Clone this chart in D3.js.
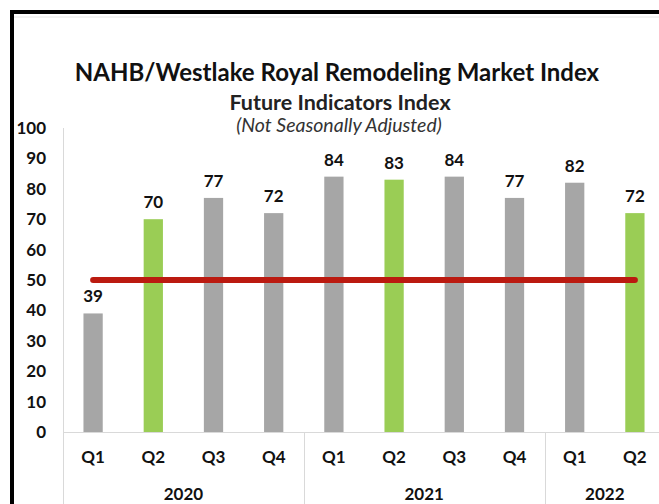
<!DOCTYPE html>
<html>
<head>
<meta charset="utf-8">
<script src="https://cdn.jsdelivr.net/npm/d3@7"></script>
<style>
  body { margin: 0; background: #fff; }
  text { font-family: Lato, "Open Sans", sans-serif; fill: #111; }
</style>
</head>
<body>
<div class="vis-barchart"></div>
<script>
// data
const quarters = ["Q1", "Q2", "Q3", "Q4", "Q1", "Q2", "Q3", "Q4", "Q1", "Q2"];
const years = ["2020", "2020", "2020", "2020", "2021", "2021", "2021", "2021", "2022", "2022"];
const values = [39, 70, 77, 72, 84, 83, 84, 77, 82, 72];
const threshold = 50;
const yTicks = [0, 10, 20, 30, 40, 50, 60, 70, 80, 90, 100];

const width = 659;
const height = 504;

const svg = d3.select('.vis-barchart').append('svg')
    .attr('width', width)
    .attr('height', height);

const idx = values.map((d, i) => i);

const x = d3.scaleBand()
    .domain(idx)
    .range([63, 665])
    .paddingInner(0.68)
    .paddingOuter(0.34);

const y = d3.scaleLinear()
    .domain([0, 100])
    .range([432, 128]);

// frame (black border on left and top)
svg.append('line')
    .attr('x1', 12).attr('x2', 12).attr('y1', 10).attr('y2', height)
    .attr('stroke', '#000').attr('stroke-width', 4);
svg.append('line')
    .attr('x1', 10).attr('x2', width).attr('y1', 12).attr('y2', 12)
    .attr('stroke', '#000').attr('stroke-width', 4);
svg.append('line')
    .attr('x1', 14).attr('x2', width).attr('y1', 17).attr('y2', 17)
    .attr('stroke', '#e6e6e6').attr('stroke-width', 1);

// titles
svg.append('text')
    .attr('x', 337).attr('y', 81)
    .attr('text-anchor', 'middle')
    .style('font-size', '24px').style('font-weight', 'bold')
    .text('NAHB/Westlake Royal Remodeling Market Index');
svg.append('text')
    .attr('x', 340).attr('y', 110)
    .attr('text-anchor', 'middle')
    .style('font-size', '21.5px').style('font-weight', 'bold')
    .style('fill', '#222')
    .text('Future Indicators Index');
svg.append('text')
    .attr('x', 339).attr('y', 132)
    .attr('text-anchor', 'middle')
    .style('font-size', '19.5px').style('font-style', 'italic')
    .style('fill', '#333')
    .text('(Not Seasonally Adjusted)');

// y axis labels
const yAxis = svg.append('g')
    .attr('transform', 'translate(46,0)')
    .call(d3.axisLeft(y).tickValues(yTicks).tickSize(0).tickPadding(0));
yAxis.select('.domain').remove();
yAxis.selectAll('text')
    .style('font-size', '17px').style('font-weight', 'bold')
    .style('font-family', 'Lato, sans-serif').attr('fill', '#111');

// left axis line and baseline
svg.append('line')
    .attr('x1', 63.5).attr('x2', 63.5).attr('y1', y(100)).attr('y2', height)
    .attr('stroke', '#d9d9d9');
svg.append('line')
    .attr('x1', 63).attr('x2', width).attr('y1', y(0) + 0.5).attr('y2', y(0) + 0.5)
    .attr('stroke', '#d9d9d9');

// bars
svg.selectAll('.bar')
    .data(values)
    .enter().append('rect')
    .attr('class', 'bar')
    .attr('x', (d, i) => x(i))
    .attr('y', d => y(d))
    .attr('width', x.bandwidth())
    .attr('height', d => y(0) - y(d))
    .attr('fill', (d, i) => quarters[i] === 'Q2' ? '#9acd55' : '#a6a6a6');

// value labels
svg.selectAll('.val')
    .data(values)
    .enter().append('text')
    .attr('class', 'val')
    .attr('x', (d, i) => x(i) + x.bandwidth() / 2)
    .attr('y', d => y(d) - 11)
    .attr('text-anchor', 'middle')
    .style('font-size', '17px').style('font-weight', 'bold')
    .text(d => d);

// threshold line
const line = d3.line()
    .x(d => x(d) + x.bandwidth() / 2)
    .y(() => y(threshold));
svg.append('path')
    .datum(idx)
    .attr('d', line)
    .attr('fill', 'none')
    .attr('stroke', '#bb1a10')
    .attr('stroke-width', 6)
    .attr('stroke-linecap', 'round');

// quarter labels
svg.selectAll('.q')
    .data(quarters)
    .enter().append('text')
    .attr('class', 'q')
    .attr('x', (d, i) => x(i) + x.bandwidth() / 2)
    .attr('y', 463)
    .attr('text-anchor', 'middle')
    .style('font-size', '17px').style('font-weight', 'bold')
    .text(d => d);

// year groups
const yearGroups = d3.groups(idx, i => years[i]);
const step = x.step();
yearGroups.forEach(([yr, ids], k) => {
    const x0 = x(ids[0]) - x.paddingOuter() * step;
    const x1 = x(ids[ids.length - 1]) - x.paddingOuter() * step + step;
    svg.append('text')
        .attr('x', (x0 + x1) / 2)
        .attr('y', 500)
        .attr('text-anchor', 'middle')
        .style('font-size', '17px').style('font-weight', 'bold')
        .text(yr);
    if (k > 0) {
        svg.append('line')
            .attr('x1', Math.round(x0) + 0.5).attr('x2', Math.round(x0) + 0.5)
            .attr('y1', y(0)).attr('y2', height)
            .attr('stroke', '#d9d9d9');
    }
});
</script>
</body>
</html>
